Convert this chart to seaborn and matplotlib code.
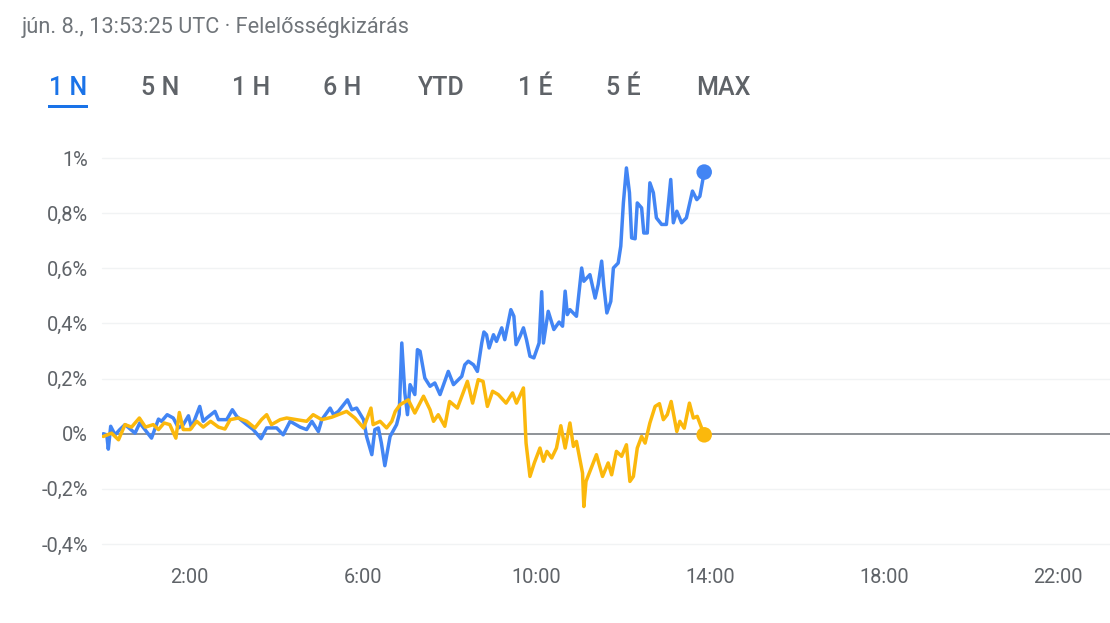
import pandas as pd
import matplotlib
matplotlib.use("Agg")
import matplotlib.pyplot as plt
from matplotlib.patches import FancyBboxPatch
import seaborn as sns

# hours since midnight UTC / percent change
blue_hours = [0.03, 0.11, 0.145, 0.2, 0.3, 0.41, 0.53, 0.76, 0.87, 1.14, 1.3, 1.37, 1.5, 1.64, 1.76, 1.87, 1.99, 2.06,
              2.25, 2.33, 2.41, 2.6, 2.68, 2.87, 3.0, 3.1, 3.33, 3.48, 3.66, 3.79, 4.02, 4.17, 4.33, 4.56, 4.71, 4.83,
              4.98, 5.06, 5.25, 5.33, 5.44, 5.65, 5.75, 5.86, 6.02, 6.09, 6.21, 6.28, 6.36, 6.43, 6.51, 6.63, 6.78,
              6.84, 6.9, 6.97, 7.03, 7.09, 7.2, 7.26, 7.32, 7.43, 7.55, 7.66, 7.78, 7.97, 8.09, 8.28, 8.35, 8.43, 8.55,
              8.64, 8.74, 8.79, 8.85, 8.91, 9.01, 9.08, 9.2, 9.27, 9.41, 9.48, 9.53, 9.62, 9.7, 9.77, 9.85, 9.94,
              10.06, 10.12, 10.16, 10.27, 10.4, 10.52, 10.6, 10.66, 10.71, 10.77, 10.92, 11.04, 11.09, 11.23, 11.35,
              11.42, 11.5, 11.55, 11.62, 11.71, 11.77, 11.88, 11.94, 12.0, 12.07, 12.14, 12.19, 12.27, 12.32, 12.42,
              12.47, 12.55, 12.61, 12.69, 12.76, 12.88, 12.99, 13.09, 13.15, 13.23, 13.34, 13.45, 13.59, 13.69, 13.76,
              13.86]
blue_pct = [0.0, -0.004, -0.056, 0.027, -0.004, 0.015, 0.033, 0.002, 0.039, -0.016, 0.053, 0.045, 0.069, 0.057, 0.021,
            0.033, 0.065, 0.021, 0.099, 0.045, 0.057, 0.081, 0.051, 0.051, 0.087, 0.063, 0.033, 0.015, -0.018, 0.021,
            0.021, -0.004, 0.045, 0.024, 0.015, 0.045, 0.008, 0.051, 0.093, 0.069, 0.081, 0.123, 0.087, 0.093, 0.051,
            -0.01, -0.076, 0.015, 0.021, -0.034, -0.116, -0.01, 0.033, 0.07, 0.329, 0.148, 0.069, 0.178, 0.142, 0.305,
            0.299, 0.202, 0.172, 0.184, 0.142, 0.226, 0.178, 0.208, 0.25, 0.263, 0.25, 0.226, 0.329, 0.369, 0.359,
            0.311, 0.359, 0.335, 0.384, 0.341, 0.45, 0.426, 0.323, 0.353, 0.384, 0.341, 0.281, 0.275, 0.329, 0.515,
            0.329, 0.444, 0.378, 0.405, 0.39, 0.517, 0.432, 0.45, 0.426, 0.601, 0.553, 0.577, 0.492, 0.541, 0.626,
            0.535, 0.438, 0.48, 0.601, 0.619, 0.68, 0.837, 0.964, 0.874, 0.71, 0.707, 0.837, 0.819, 0.728, 0.728, 0.91,
            0.874, 0.783, 0.759, 0.759, 0.922, 0.765, 0.807, 0.765, 0.783, 0.88, 0.849, 0.861, 0.949]

yellow_hours = [0.03, 0.22, 0.38, 0.53, 0.68, 0.86, 1.0, 1.18, 1.3, 1.43, 1.56, 1.7, 1.78, 1.87, 2.03, 2.18, 2.33, 2.5,
                2.68, 2.83, 2.95, 3.14, 3.33, 3.52, 3.67, 3.79, 3.9, 4.1, 4.25, 4.48, 4.71, 4.86, 5.06, 5.29, 5.63,
                5.82, 6.02, 6.19, 6.24, 6.4, 6.55, 6.67, 6.75, 6.86, 7.05, 7.2, 7.4, 7.55, 7.63, 7.74, 7.89, 8.0, 8.18,
                8.41, 8.53, 8.66, 8.77, 8.87, 8.99, 9.12, 9.3, 9.45, 9.54, 9.7, 9.76, 9.85, 9.95, 10.08, 10.16, 10.24,
                10.35, 10.46, 10.56, 10.66, 10.77, 10.85, 10.92, 11.06, 11.09, 11.14, 11.38, 11.52, 11.65, 11.73, 11.84,
                11.96, 12.07, 12.15, 12.23, 12.32, 12.42, 12.5, 12.61, 12.73, 12.83, 12.92, 13.01, 13.1, 13.23, 13.3,
                13.4, 13.52, 13.61, 13.7, 13.86]
yellow_pct = [-0.01, 0.002, -0.022, 0.033, 0.024, 0.057, 0.024, 0.033, 0.015, 0.039, 0.033, -0.016, 0.077, 0.015, 0.015,
              0.045, 0.024, 0.045, 0.024, 0.017, 0.051, 0.057, 0.045, 0.021, 0.051, 0.069, 0.033, 0.051, 0.057, 0.051,
              0.045, 0.069, 0.051, 0.06, 0.081, 0.057, 0.021, 0.093, 0.033, 0.045, 0.021, 0.045, 0.081, 0.105, 0.123,
              0.075, 0.136, 0.087, 0.045, 0.069, 0.027, 0.117, 0.093, 0.19, 0.111, 0.196, 0.19, 0.099, 0.154, 0.142,
              0.111, 0.148, 0.111, 0.166, -0.034, -0.155, -0.106, -0.052, -0.1, -0.064, -0.088, -0.052, 0.029, -0.052,
              0.039, -0.046, -0.028, -0.143, -0.264, -0.173, -0.076, -0.155, -0.106, -0.149, -0.064, -0.082, -0.04,
              -0.173, -0.155, -0.052, -0.01, -0.034, 0.039, 0.099, 0.109, 0.051, 0.069, 0.117, 0.008, 0.045, 0.02,
              0.111, 0.057, 0.063, -0.004]

y_ticks = [-0.4, -0.2, 0, 0.2, 0.4, 0.6, 0.8, 1.0]
y_labels = ["-0,4%", "-0,2%", "0%", "0,2%", "0,4%", "0,6%", "0,8%", "1%"]
x_ticks = [2, 6, 10, 14, 18, 22]
x_labels = ["2:00", "6:00", "10:00", "14:00", "18:00", "22:00"]
tabs = ["1 N", "5 N", "1 H", "6 H", "YTD", "1 É", "5 É", "MAX"]
tab_x = [68, 160, 251, 342, 441, 535, 623, 723]
header = "jún. 8., 13:53:25 UTC · Felelősségkizárás"

BLUE = "#4285f4"
YELLOW = "#fbb80c"
GREY = "#5f6368"

sns.set_theme(style="white")
plt.rcParams["font.family"] = ["Roboto", "DejaVu Sans"]

W, H = 1110, 623
fig = plt.figure(figsize=(W / 100, H / 100), dpi=100)
ax = fig.add_axes([102 / W, 1 - 544 / H, 1 - 102 / W, (544 - 158) / H])

df = pd.concat([
    pd.DataFrame({"hour": blue_hours, "pct": blue_pct, "series": "blue"}),
    pd.DataFrame({"hour": yellow_hours, "pct": yellow_pct, "series": "yellow"}),
])
palette = {"blue": BLUE, "yellow": YELLOW}

ax.axhline(0, color="#70757a", lw=1.1, zorder=3)
sns.lineplot(data=df, x="hour", y="pct", hue="series", palette=palette, estimator=None, sort=False,
             lw=2.5, legend=False, ax=ax, zorder=4)
last = df.groupby("series", as_index=False).last()
sns.scatterplot(data=last, x="hour", y="pct", hue="series", palette=palette, s=125, linewidth=0,
                legend=False, ax=ax, zorder=5, clip_on=False)

ax.set_xlim(0, 23.2)
ax.set_ylim(-0.4, 1.0)
ax.set_xticks(x_ticks, x_labels)
ax.set_yticks(y_ticks, y_labels)
ax.set_xlabel("")
ax.set_ylabel("")
for t in y_ticks:
    if t != 0:
        ax.axhline(t, color="#f1f3f4", lw=1, zorder=1, clip_on=False)
ax.tick_params(axis="x", length=5, width=1, color="#9aa0a6", labelcolor=GREY, labelsize=14.4, pad=12)
ax.tick_params(axis="y", length=0, labelcolor=GREY, labelsize=14.4, pad=10)
sns.despine(ax=ax, left=True, right=True, top=True, bottom=True)

fig.text(22 / W, 1 - 27 / H, header, color="#70757a", fontsize=15.7, va="center", ha="left")
for label, x in zip(tabs, tab_x):
    fig.text(x / W, 1 - 88 / H, label, color="#1a73e8" if label == "1 N" else GREY, fontsize=18,
             fontweight="medium", va="center", ha="center")
fig.add_artist(FancyBboxPatch((48 / W, 1 - 108 / H), 40 / W, 3.5 / H, boxstyle="square,pad=0",
                              transform=fig.transFigure, color="#1a73e8", lw=0))

fig.savefig("out.png", dpi=100)
